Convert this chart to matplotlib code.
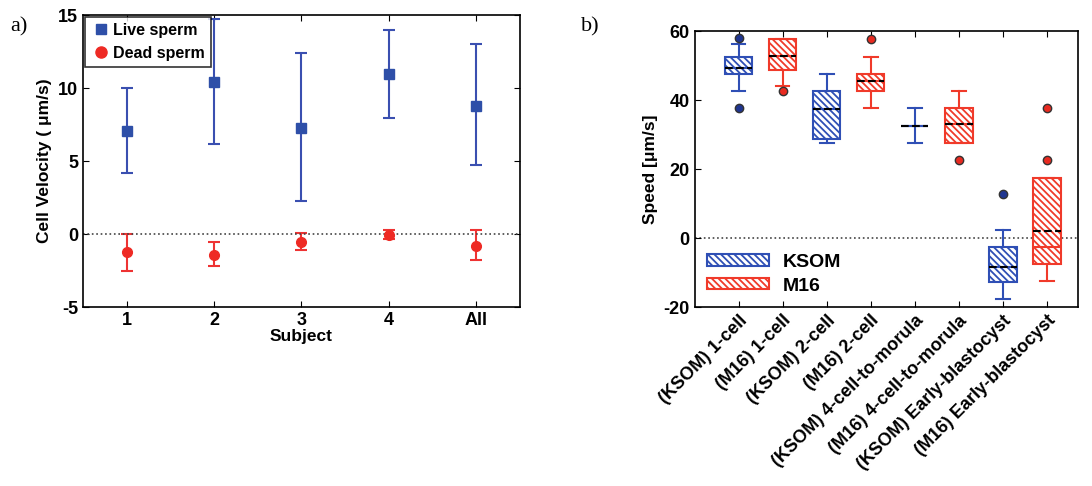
import matplotlib
matplotlib.use("Agg")
import matplotlib.pyplot as plt
from matplotlib.patches import Patch
from matplotlib.lines import Line2D
import numpy as np

plt.rcParams['font.family'] = ['Liberation Sans', 'DejaVu Sans']
plt.rcParams['font.weight'] = 'bold'
plt.rcParams['axes.unicode_minus'] = False
plt.rcParams['hatch.linewidth'] = 1.3

# panel a) data
subjects = ['1', '2', '3', '4', 'All']
live_mean = [7.05, 10.4, 7.3, 10.95, 8.8]
live_low = [4.2, 6.2, 2.3, 7.95, 4.7]
live_high = [10.0, 14.7, 12.4, 14.0, 13.0]
dead_mean = [-1.25, -1.4, -0.55, -0.05, -0.8]
dead_low = [-2.5, -2.2, -1.1, -0.35, -1.8]
dead_high = [0.0, -0.55, 0.05, 0.3, 0.25]

# panel b) data
groups = ['(KSOM) 1-cell', '(M16) 1-cell', '(KSOM) 2-cell', '(M16) 2-cell',
          '(KSOM) 4-cell-to-morula', '(M16) 4-cell-to-morula',
          '(KSOM) Early-blastocyst', '(M16) Early-blastocyst']
media = ['KSOM', 'M16', 'KSOM', 'M16', 'KSOM', 'M16', 'KSOM', 'M16']
whislo = [42.6, 44.1, 27.6, 37.6, 27.6, 27.6, -17.5, -12.5]
q1 = [47.5, 48.6, 28.6, 42.6, 32.6, 27.6, -12.7, -7.5]
med = [49.4, 52.9, 37.4, 45.4, 32.6, 33.2, -8.3, -2.5]
q3 = [52.6, 57.7, 42.6, 47.5, 32.6, 37.6, -2.5, 17.3]
whishi = [56.3, 57.7, 47.5, 52.6, 37.6, 42.6, 2.5, 17.3]
means = [49.4, 52.9, 37.4, 45.4, 32.6, 33.2, -8.3, 2.0]
fliers = [[57.9, 37.8], [42.7], [], [57.7], [], [22.6], [12.7], [37.6, 22.6]]

blue = '#2f4fb5'
red = '#f03a2a'
colors = {'KSOM': blue, 'M16': red}
flier_fill = {'KSOM': '#1f3590', 'M16': '#e82a20'}
hatch = '\\\\\\\\\\'

fig = plt.figure(figsize=(10.92, 4.86), dpi=100)
ax1 = fig.add_axes([0.076, 0.368, 0.4, 0.601])
ax2 = fig.add_axes([0.636, 0.368, 0.351, 0.568])

# ---- panel a
x = np.arange(1, len(subjects) + 1)
lm = np.array(live_mean)
ax1.errorbar(x, lm, yerr=[lm - np.array(live_low), np.array(live_high) - lm],
             fmt='s', color='#3a4fb0', mfc='#2e4fa8', mec='#2e4fa8', ms=7,
             capsize=4, elinewidth=1.5, capthick=1.5)
dm = np.array(dead_mean)
ax1.errorbar(x, dm, yerr=[dm - np.array(dead_low), np.array(dead_high) - dm],
             fmt='o', color='#ee3333', mfc='#ee2a24', mec='#ee2a24', ms=7,
             capsize=4, elinewidth=1.5, capthick=1.5)
ax1.axhline(0, color='#444444', ls=':', lw=1.2)
ax1.set_xlim(0.5, 5.5)
ax1.set_ylim(-5, 15)
ax1.set_xticks(x)
ax1.set_xticklabels(subjects)
ax1.set_yticks([-5, 0, 5, 10, 15])
ax1.tick_params(direction='in', top=True, right=True, labelsize=13, length=4)
ax1.set_xlabel('Subject', fontsize=12.5, fontweight='bold', labelpad=0)
ax1.set_ylabel('Cell Velocity ( \u03bcm/s)', fontsize=12.5, fontweight='bold')
h_live = Line2D([], [], ls='', marker='s', ms=7, color='#2e4fa8')
h_dead = Line2D([], [], ls='', marker='o', ms=8, color='#ee2a24')
leg = ax1.legend([h_live, h_dead], ['Live sperm', 'Dead sperm'], loc='upper left',
                 fontsize=11.5, frameon=True, fancybox=False, borderaxespad=0.15,
                 handletextpad=0.2, handlelength=1.2, borderpad=0.35)
leg.get_frame().set_edgecolor('black')
leg.get_frame().set_linewidth(1.2)
for sp in ax1.spines.values():
    sp.set_linewidth(1.2)

# ---- panel b
stats = []
for i in range(len(groups)):
    stats.append(dict(whislo=whislo[i], q1=q1[i], med=med[i], q3=q3[i],
                      whishi=whishi[i], mean=means[i], fliers=fliers[i]))
pos = np.arange(1, len(groups) + 1)
for i, s in enumerate(stats):
    c = colors[media[i]]
    ax2.bxp([s], positions=[pos[i]], widths=0.62, patch_artist=True,
            showmeans=True, meanline=True,
            boxprops=dict(facecolor='white', edgecolor=c, hatch=hatch, linewidth=1.5),
            whiskerprops=dict(color=c, linewidth=1.5),
            capprops=dict(color=c, linewidth=1.5),
            medianprops=dict(color=c, linewidth=1.5),
            meanprops=dict(color='black', linestyle='--', linewidth=1.5),
            flierprops=dict(marker='o', markerfacecolor=flier_fill[media[i]],
                            markeredgecolor='#333333', markersize=6))
ax2.axhline(0, color='#444444', ls=':', lw=1.2, zorder=0)
ax2.set_xlim(0, 8.7)
ax2.set_ylim(-20, 60)
ax2.set_yticks([-20, 0, 20, 40, 60])
ax2.set_xticks(pos)
ax2.set_xticklabels(groups, rotation=45, ha='right', rotation_mode='anchor',
                    fontsize=13, fontweight='bold')
ax2.tick_params(direction='in', top=True, labelsize=13, length=4)
ax2.set_ylabel('Speed [\u03bcm/s]', fontsize=12.5, fontweight='bold')
handles = [Patch(facecolor='white', edgecolor=colors[m], hatch=hatch, linewidth=1.5)
           for m in ['KSOM', 'M16']]
ax2.legend(handles, ['KSOM', 'M16'], loc='lower left', frameon=False,
           fontsize=14, handlelength=3.2, handleheight=0.55, borderaxespad=0.25,
           labelspacing=0.35, handletextpad=0.7)
for sp in ax2.spines.values():
    sp.set_linewidth(1.2)

fig.text(0.009, 0.935, 'a)', fontsize=16, family='Liberation Serif', fontweight='normal')
fig.text(0.532, 0.935, 'b)', fontsize=16, family='Liberation Serif', fontweight='normal')

fig.savefig('out.png', dpi=100)
